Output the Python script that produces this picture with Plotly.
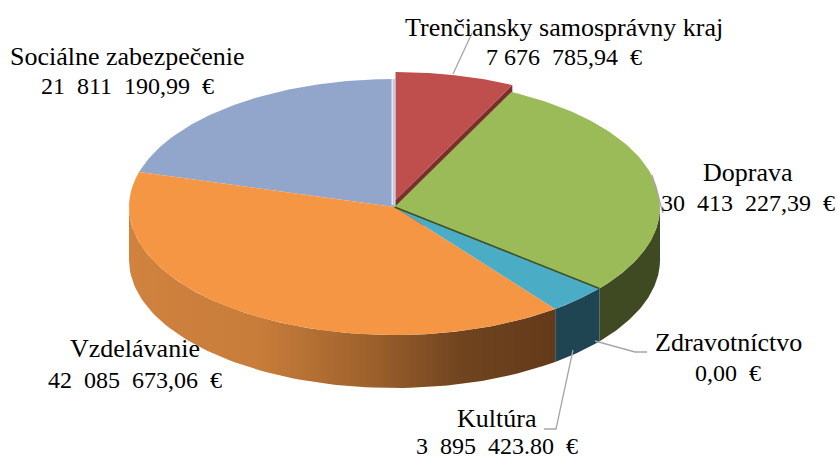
import numpy as np
import plotly.graph_objects as go

categories = ["Trenčiansky samosprávny kraj", "Doprava", "Zdravotníctvo", "Kultúra", "Vzdelávanie", "Sociálne zabezpečenie"]
values = [7676785.94, 30413227.39, 0.0, 3895423.80, 42085673.06, 21811190.99]
value_labels = ["7\u00a0676\u00a0\u00a0785,94\u00a0\u00a0€", "30\u00a0\u00a0413\u00a0\u00a0227,39\u00a0\u00a0€", "0,00\u00a0\u00a0€",
                "3\u00a0\u00a0895\u00a0\u00a0423.80\u00a0\u00a0€", "42\u00a0\u00a0085\u00a0\u00a0673,06\u00a0\u00a0€", "21\u00a0\u00a0811\u00a0\u00a0190,99\u00a0\u00a0€"]

top_colors = ["#be4f4c", "#9bbb59", "#3f4f24", "#4bacc6", "#f59645", "#92a6cc"]
wall_colors = ["#7a2f2d", "#3f4a22", "#3f4a22", "#1f4452", None, "#566a8c"]
orange_wall = [[0, "#d0823e"], [0.3, "#c87d3a"], [0.55, "#a0632e"], [0.78, "#6f441f"], [1, "#643a1a"]]

label_pos = [(564, 27, 57), (748, 172, 203), (728, 342, 373), (497, 418, 446), (135, 348, 380), (127, 56, 86)]
leaders = [
    [(453, 74), (472, 33)],
    [(652, 175), (663, 213)],
    [(595, 341), (635, 352), (647, 352)],
    [(573, 350), (556, 429), (544, 429)],
]

CX, CY, RX, RY, DEPTH = 394.5, 207, 265.5, 128, 53
EXPLODE = (1, -7)

edges = np.concatenate([[0], np.cumsum(values)]) / np.sum(values) * 360


def arc(a, b, n=80, off=(0, 0)):
    t = np.radians(np.linspace(a, b, n))
    return CX + off[0] + RX * np.sin(t), CY + off[1] - RY * np.cos(t)


def poly(x, y, color, **kw):
    line = kw.pop("line", dict(width=0))
    return go.Scatter(x=list(x), y=list(y), mode="lines", fill="toself", fillcolor=color,
                      line=line, hoverinfo="skip", showlegend=False, **kw)


def wedge(a, b, off=(0, 0), color="#000", **kw):
    x, y = arc(a, b, off=off)
    return poly(np.r_[CX + off[0], x, CX + off[0]], np.r_[CY + off[1], y, CY + off[1]], color, **kw)


def wall(a, b, color=None, **kw):
    a, b = max(a, 90), min(b, 270)
    if b <= a:
        return None
    x, y = arc(a, b)
    return poly(np.r_[x, x[::-1], x[0]], np.r_[y, y[::-1] + DEPTH, y[0]], color or "#888", **kw)


fig = go.Figure()

# red slice, lifted away from the pie, with its cut face
a0, a1 = edges[0], edges[1]
xr, yr = arc(a1, a1, n=2, off=EXPLODE)
ax, ay = CX + EXPLODE[0], CY + EXPLODE[1]
fig.add_trace(poly([ax, xr[0], xr[0], ax, ax], [ay, yr[0], yr[0] + DEPTH, ay + DEPTH, ay], wall_colors[0]))
fig.add_trace(wedge(a0, a1, off=EXPLODE, color=top_colors[0]))

# side walls
for i in range(1, 6):
    if values[i] == 0:
        continue
    if wall_colors[i] is None:
        tr = wall(edges[i], edges[i + 1], fillgradient=dict(type="horizontal", colorscale=orange_wall))
    else:
        tr = wall(edges[i], edges[i + 1], wall_colors[i])
    if tr is not None:
        fig.add_trace(tr)

# top faces
for i in [5, 4, 3, 1]:
    fig.add_trace(wedge(edges[i], edges[i + 1], color=top_colors[i]))
# zero-valued slice is only an edge
fig.add_trace(go.Scatter(x=[CX, arc(edges[2], edges[2], n=1)[0][0]], y=[CY, arc(edges[2], edges[2], n=1)[1][0]],
                         mode="lines", line=dict(color=top_colors[2], width=1.5), hoverinfo="skip", showlegend=False))
# light seam between the blue slice and the lifted red one
fig.add_trace(go.Scatter(x=[CX - 2, CX - 2], y=[CY - RY, CY - 2], mode="lines",
                         line=dict(color="#e4e9f2", width=2), hoverinfo="skip", showlegend=False))

for pts in leaders:
    fig.add_trace(go.Scatter(x=[p[0] for p in pts], y=[p[1] for p in pts], mode="lines",
                             line=dict(color="#a6a6a6", width=1.3), hoverinfo="skip", showlegend=False))

NAME_FONT = dict(family="Liberation Serif", size=26, color="#000000")
VALUE_FONT = dict(family="Liberation Serif", size=24, color="#000000")
for name, val, (lx, y1, y2) in zip(categories, value_labels, label_pos):
    fig.add_annotation(x=lx, y=y1, text=name, showarrow=False, font=NAME_FONT, xanchor="center", yanchor="middle")
    fig.add_annotation(x=lx, y=y2, text=val, showarrow=False, font=VALUE_FONT, xanchor="center", yanchor="middle")

fig.update_layout(width=837, height=459, margin=dict(l=0, r=0, t=0, b=0), paper_bgcolor="white", plot_bgcolor="white",
                  showlegend=False,
                  xaxis=dict(range=[0, 837], visible=False, fixedrange=True),
                  yaxis=dict(range=[459, 0], visible=False, fixedrange=True))
fig.write_html("out.html", config=dict(displayModeBar=False),
               post_script="document.body.style.margin='0';document.body.style.overflow='hidden';")
